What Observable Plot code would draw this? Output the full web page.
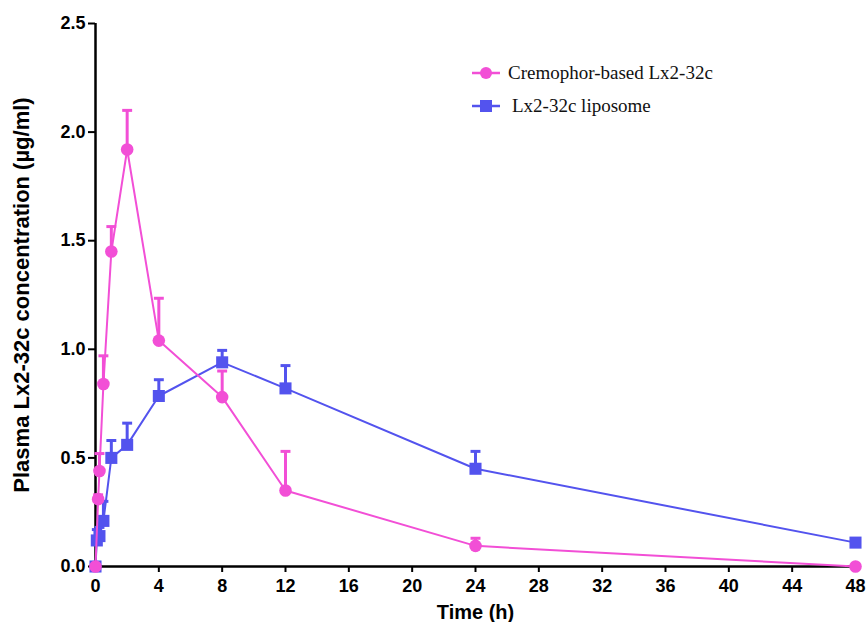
<!DOCTYPE html>
<html>
<head>
<meta charset="utf-8">
<script src="https://cdn.jsdelivr.net/npm/d3@7"></script>
<script src="https://cdn.jsdelivr.net/npm/@observablehq/plot@0.6"></script>
<style>
  html, body { margin: 0; padding: 0; background: #fff; }
  #wrap { position: relative; width: 868px; height: 622px; }
  #legend { position: absolute; left: 472px; top: 56px; font-family: "Liberation Serif", "Times New Roman", serif; font-size: 19px; color: #111; }
  #legend .row { display: flex; align-items: center; height: 33px; }
  #legend svg { margin-right: 8px; }
</style>
</head>
<body>
<div id="wrap">
  <div id="chart"></div>
  <div id="legend"></div>
</div>
<script>
// Data
const seriesNames = ["Cremophor-based Lx2-32c", "Lx2-32c liposome"];
const colors = ["#f24fd6", "#5353ee"];

const timesPink = [0, 0.167, 0.25, 0.5, 1, 2, 4, 8, 12, 24, 48];
const meanPink  = [0, 0.31, 0.44, 0.84, 1.45, 1.92, 1.04, 0.78, 0.35, 0.095, 0.0];
const upperPink = [0, 0.33, 0.52, 0.97, 1.565, 2.10, 1.235, 0.90, 0.53, 0.13, 0.0];

const timesBlue = [0, 0.083, 0.25, 0.5, 1, 2, 4, 8, 12, 24, 48];
const meanBlue  = [0, 0.12, 0.14, 0.21, 0.50, 0.56, 0.785, 0.94, 0.82, 0.45, 0.11];
const upperBlue = [0, 0.17, 0.18, 0.30, 0.58, 0.66, 0.86, 0.995, 0.925, 0.53, 0.11];

const xTicks = d3.range(0, 49, 4);
const yTicks = [0, 0.5, 1.0, 1.5, 2.0, 2.5];

const pink = timesPink.map((t, i) => ({t, v: meanPink[i], hi: upperPink[i]}));
const blue = timesBlue.map((t, i) => ({t, v: meanBlue[i], hi: upperBlue[i]}));

const capSymbol = {
  draw(context, size) {
    const w = Math.sqrt(size) / 2;
    context.moveTo(-w, 0);
    context.lineTo(w, 0);
  }
};

function seriesMarks(data, color, symbol, r) {
  const errs = data.filter(d => d.hi - d.v > 0.005);
  return [
    Plot.ruleX(errs, {x: "t", y1: "v", y2: "hi", stroke: color, strokeWidth: 3}),
    Plot.dot(errs, {x: "t", y: "hi", symbol: capSymbol, r: 5.6, stroke: color, strokeWidth: 3}),
    Plot.line(data, {x: "t", y: "v", stroke: color, strokeWidth: 2}),
    Plot.dot(data, {x: "t", y: "v", symbol, r, fill: color, stroke: "none"})
  ];
}

const chart = Plot.plot({
  width: 868,
  height: 622,
  marginLeft: 95,
  marginRight: 13,
  marginTop: 23,
  marginBottom: 56,
  style: {fontFamily: "'Liberation Sans', Arial, sans-serif", fontSize: "18px", fontWeight: "bold", color: "#000", background: "#fff"},
  x: {domain: [0, 48], ticks: xTicks},
  y: {domain: [0, 2.5], ticks: yTicks},
  marks: [
    Plot.axisX({ticks: xTicks, tickSize: 6, tickPadding: 7, strokeWidth: 2, tickFormat: d3.format("d"), fontSize: 18, label: null}),
    Plot.axisX({ticks: [], label: "Time (h)", labelAnchor: "center", labelArrow: "none", labelOffset: 52, fontSize: 20}),
    Plot.axisY({ticks: yTicks, tickSize: 7, tickPadding: 3, strokeWidth: 2, tickFormat: d3.format(".1f"), fontSize: 18, label: null}),
    Plot.axisY({ticks: [], label: "Plasma Lx2-32c concentration (µg/ml)", labelAnchor: "center", labelArrow: "none", labelOffset: 82, fontSize: 22}),
    Plot.ruleY([0], {stroke: "#000", strokeWidth: 2.5}),
    Plot.ruleX([0], {stroke: "#000", strokeWidth: 2.5}),
    ...seriesMarks(blue, colors[1], "square", 6.8),
    ...seriesMarks(pink, colors[0], "circle", 6.3)
  ]
});
document.getElementById("chart").appendChild(chart);

// Legend (HTML)
const legend = document.getElementById("legend");
seriesNames.forEach((name, i) => {
  const row = document.createElement("div");
  row.className = "row";
  const shape = i === 0
    ? `<circle cx="14" cy="7" r="6" fill="${colors[i]}"/>`
    : `<rect x="8" y="1" width="12" height="12" fill="${colors[i]}"/>`;
  row.innerHTML = `<svg width="28" height="14"><line x1="0" x2="28" y1="7" y2="7" stroke="${colors[i]}" stroke-width="2.5"/>${shape}</svg><span style="margin-left:${i === 0 ? 0 : 4}px">${name}</span>`;
  legend.appendChild(row);
});
</script>
</body>
</html>
